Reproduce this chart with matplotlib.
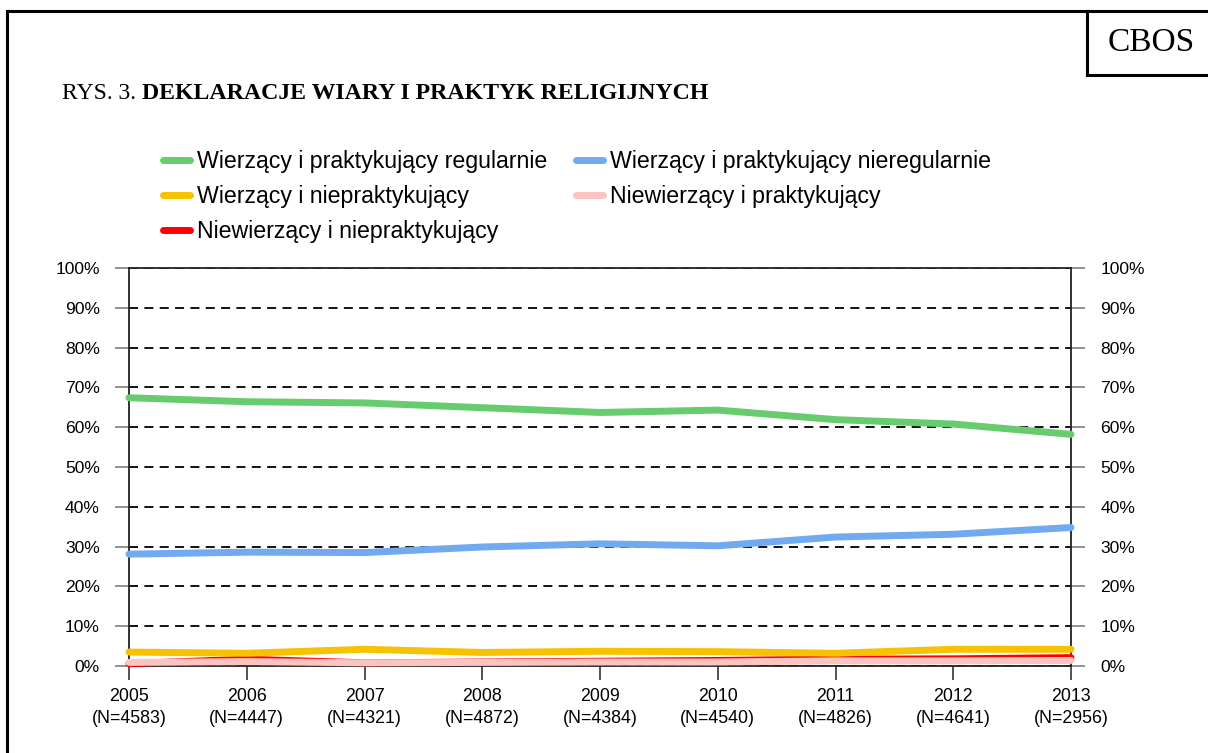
import numpy as np
import matplotlib
matplotlib.use("Agg")
import matplotlib.pyplot as plt
from matplotlib.lines import Line2D

plt.rcParams['font.family'] = ['Liberation Sans', 'DejaVu Sans']

# Data (percent)
years = [2005, 2006, 2007, 2008, 2009, 2010, 2011, 2012, 2013]
sample_n = [4583, 4447, 4321, 4872, 4384, 4540, 4826, 4641, 2956]

wierzacy_regularnie = [67.4, 66.4, 66.1, 64.9, 63.7, 64.3, 61.9, 60.8, 58.2]
wierzacy_nieregularnie = [28.1, 28.6, 28.5, 29.9, 30.7, 30.2, 32.4, 33.1, 34.8]
wierzacy_niepraktykujacy = [3.5, 3.2, 4.2, 3.4, 3.7, 3.6, 3.2, 4.2, 4.2]
niewierzacy_praktykujacy = [0.9, 1.1, 0.8, 0.9, 1.0, 1.0, 1.3, 1.3, 1.4]
niewierzacy_niepraktykujacy = [0.6, 1.7, 0.8, 1.0, 1.2, 1.4, 1.7, 1.8, 2.1]

yticks = list(range(0, 101, 10))
xlabels = [f"{y}\n(N={n})" for y, n in zip(years, sample_n)]

fig = plt.figure(figsize=(12.08, 7.53), dpi=100)
ax = fig.add_axes([129 / 1208, 87 / 753, 942 / 1208, 398 / 753])

lw = 5
kw = dict(lw=lw, solid_capstyle='round', clip_on=False)
l_green, = ax.plot(years, wierzacy_regularnie, color='#66cc6e', zorder=5, **kw)
l_blue, = ax.plot(years, wierzacy_nieregularnie, color='#72aaf2', zorder=5, **kw)
l_yellow, = ax.plot(years, wierzacy_niepraktykujacy, color='#f7c200', zorder=5, **kw)
l_red, = ax.plot(years, niewierzacy_niepraktykujacy, color='#ff0000', zorder=4, **kw)
l_pink, = ax.plot(years, niewierzacy_praktykujacy, color='#fcc4c0', zorder=4.5, **kw)

ax.set_xlim(years[0], years[-1])
ax.set_ylim(0, 100)
ax.set_yticks(yticks)
ax.set_yticklabels([f"{v}%" for v in yticks])
ax.set_xticks(years)
ax.set_xticklabels(xlabels, linespacing=1.35)

ax.yaxis.grid(True, color='black', linestyle=(0, (5, 3.5)), linewidth=1.3)
ax.set_axisbelow(True)
for s in ax.spines.values():
    s.set_color('#222222')
    s.set_linewidth(1.3)

ax.tick_params(axis='y', which='both', left=True, right=True, labelleft=True,
               labelright=True, direction='out', length=10, width=1.3,
               color='#888888', pad=11, labelsize=12.6)
ax.tick_params(axis='x', direction='out', length=10, width=1.3,
               color='#444444', pad=6, labelsize=12.8)

# legend (3 rows, 2 columns)
fig.legend([l_green, l_yellow, l_red, l_blue, l_pink],
           ['Wierzący i praktykujący regularnie',
            'Wierzący i niepraktykujący',
            'Niewierzący i niepraktykujący',
            'Wierzący i praktykujący nieregularnie',
            'Niewierzący i praktykujący'],
           ncol=2, loc='upper left', bbox_to_anchor=(163 / 1208, 1 - 150 / 753),
           frameon=False, fontsize=16.7, handlelength=1.15, handletextpad=0.3,
           columnspacing=1.25, labelspacing=0.52, borderpad=0, borderaxespad=0)

# title
t1 = fig.text(62 / 1208, 1 - 104 / 753, "RYS. 3.", fontsize=17,
              family='Liberation Serif', va='bottom', ha='left')
ax.annotate("DEKLARACJE WIARY I PRAKTYK RELIGIJNYCH", xy=(1, 0), xycoords=t1,
            xytext=(4, 0), textcoords='offset points', fontsize=17.2,
            family='Liberation Serif', fontweight='bold', va='bottom', ha='left',
            annotation_clip=False)

fig.text(1151 / 1208, 1 - 43 / 753, "CBOS", fontsize=24, family='Liberation Serif',
         ha='center', va='center')

# page frame and CBOS box
frame = dict(transform=fig.transFigure, color='black', lw=2.2)
fig.add_artist(Line2D([7 / 1208, 7 / 1208], [0, 1 - 11 / 753], **frame))
fig.add_artist(Line2D([7 / 1208, 1], [1 - 11 / 753, 1 - 11 / 753], **frame))
fig.add_artist(Line2D([1087 / 1208, 1087 / 1208], [1 - 11 / 753, 1 - 75 / 753], **frame))
fig.add_artist(Line2D([1087 / 1208, 1], [1 - 75 / 753, 1 - 75 / 753], **frame))

fig.savefig('out.png', dpi=100)
